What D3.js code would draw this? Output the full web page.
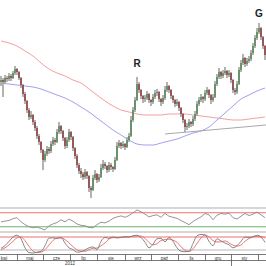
<!DOCTYPE html>
<html>
<head>
<meta charset="utf-8">
<script src="https://cdn.jsdelivr.net/npm/d3@7"></script>
<style>
  html, body { margin: 0; padding: 0; background: #fff; }
  svg { display: block; }
</style>
</head>
<body>
<svg id="chart" width="266" height="266"></svg>
<script>
// daily candles, [open, high, low, close]
const candles = [
  [168,174,164,170],[170,172,153,168],[168,175,166,172],[172,174,168,171],[171,177,169,174],
  [174,176,169,172],[172,179,171,177],[177,184,175,181],[181,182,175,178],[178,179,170,172],
  [172,173,162,165],[165,166,153,156],[156,158,146,149],[149,150,137,140],[140,142,130,133],
  [133,139,131,135],[135,136,125,128],[128,130,119,122],[122,124,111,114],[114,116,105,108],
  [108,109,97,100],[100,101,80,90],[90,99,88,96],[96,104,94,101],[101,103,96,99],
  [99,109,97,106],[106,113,104,110],[110,112,105,108],[108,121,107,118],[118,128,116,124],
  [124,125,116,119],[119,120,109,112],[112,113,101,104],[104,113,102,110],[110,121,108,118],
  [118,119,110,113],[113,114,99,102],[102,103,91,94],[94,96,82,85],[85,87,76,79],
  [79,82,72,76],[76,78,70,73],[73,81,71,78],[78,79,71,74],[74,75,58,62],
  [62,64,52,60],[60,75,59,72],[72,80,70,76],[76,77,67,70],[70,76,68,73],
  [73,86,72,82],[82,90,80,86],[86,88,81,84],[84,85,77,80],[80,88,78,85],
  [85,87,80,83],[83,84,78,81],[81,93,80,90],[90,108,89,104],[104,110,102,107],
  [107,108,101,104],[104,109,102,106],[106,107,100,103],[103,113,102,110],[110,117,108,114],
  [114,134,113,130],[130,143,128,140],[140,153,138,150],[150,173,149,166],[166,168,157,160],
  [160,161,151,154],[154,155,147,151],[151,155,148,152],[152,159,150,156],[156,157,147,150],
  [150,151,144,148],[148,156,146,153],[153,160,151,157],[157,161,154,158],[158,159,148,151],
  [151,152,144,148],[148,155,146,152],[152,164,150,160],[160,168,158,164],[164,165,157,160],
  [160,161,151,154],[154,155,147,150],[150,151,143,146],[146,151,144,148],[148,149,139,142],
  [142,143,133,136],[136,137,127,130],[130,131,118,123],[123,127,120,124],[124,131,122,128],
  [128,129,123,126],[126,134,124,131],[131,139,129,136],[136,149,134,146],[146,153,144,150],
  [150,156,148,153],[153,154,147,151],[151,160,149,157],[157,163,155,160],[160,161,152,155],
  [155,156,146,150],[150,156,148,153],[153,169,152,166],[166,176,164,173],[173,182,171,178],
  [178,179,171,174],[174,180,172,177],[177,183,175,179],[179,180,172,175],[175,180,173,177],
  [177,178,167,170],[170,171,157,160],[160,162,155,158],[158,169,156,166],[166,183,165,180],
  [180,190,178,187],[187,196,185,192],[192,193,183,186],[186,192,184,189],[189,194,187,191],
  [191,200,189,197],[197,207,195,204],[204,215,202,212],[212,222,210,218],[218,227,216,222],
  [222,223,210,213],[213,214,201,204],[204,205,190,195]
];

// moving averages, one value every 4th candle
const maStep = 4;
const maFast = [167,166,165,164,163,161,158,155,152,148,143,138,132,126,120,115,110,106,
  105,105,107,109,111,114,117,119,123,130,137,144,151,155,159,162];
const maSlow = [209,207,204,199,194,187,181,177,174,170,167,161,155,149,144,140,138,136,
  135,135,135,136,136,136,135,134,133,132,131,130,130,131,132,133];

// oscillators, one value every 2nd candle
const oscStep = 2;
const rsiValues = [44,46,48,53,56,44,36,30,27,29,25,21,33,38,42,50,44,52,46,38,34,33,28,27,
  36,43,41,46,54,58,61,57,62,70,78,73,66,58,62,64,57,68,60,57,54,48,42,36,45,52,58,68,64,
  50,63,68,66,69,56,52,60,68,62,66,72,64,56];
const stochK = [28,40,60,80,88,72,30,8,6,10,14,40,75,76,74,78,52,30,22,10,12,20,30,34,22,
  60,78,74,80,76,78,82,80,86,88,78,56,30,46,72,74,58,78,60,30,14,12,14,50,86,92,90,60,40,
  72,62,52,44,30,40,60,80,78,82,88,80,55];
const stochD = [22,30,43,60,76,80,63,37,15,8,10,21,43,64,75,76,68,53,35,21,15,14,21,28,29,
  39,53,71,77,77,78,79,80,83,85,84,74,55,44,49,64,68,70,65,56,35,19,13,25,50,76,89,81,63,
  57,58,62,53,42,38,43,60,73,80,83,83,74];
const rsiLevels = [{ v: 70, color: "#f07070" }, { v: 30, color: "#70b070" }];
const stochLevels = [{ v: 80, color: "#f07070" }, { v: 20, color: "#b8b8b8" }];

const trendLine = [{ i: 82, p: 116 }, { i: 132.5, p: 125 }];
const peakLabels = [{ i: 68, p: 183, text: "R" }, { i: 129, p: 233, text: "G" }];

const monthStarts = [-5, 8, 21, 34.5, 48, 62, 75, 88.5, 102, 115, 128.5];
const monthLabels = ["kwi", "maj", "cze", "lip", "sie", "wrz", "paź", "lis", "gru", "sty"];
const yearBreak = 115;
const yearLabel = { i: 34.5, text: "2012" };

(function drawChart() {
  const svg = d3.select("#chart");
  const width = 266;

  const x = d3.scaleLinear().domain([-0.5, 132.5]).range([0, width]);
  const y = d3.scaleLinear().domain([45, 250]).range([205, 0]);
  const rsiY = d3.scaleLinear().domain([15, 85]).range([232, 207.5]);
  const stochY = d3.scaleLinear().domain([0, 100]).range([254.3, 232.7]);

  // panel separators
  svg.append("g")
    .selectAll("line")
    .data([rsiY(85) + 0.5, rsiY(15)])
    .join("line")
    .attr("x1", 0)
    .attr("x2", width)
    .attr("y1", (d) => d)
    .attr("y2", (d) => d)
    .attr("stroke", "#b0b0b0")
    .attr("stroke-width", 1.2);

  // moving averages
  const maLine = d3.line()
    .x((d, idx) => x(idx * maStep))
    .y((d) => y(d))
    .curve(d3.curveMonotoneX);

  svg.append("path")
    .datum(maSlow)
    .attr("d", maLine)
    .attr("fill", "none")
    .attr("stroke", "#f4a0a0")
    .attr("stroke-width", 1);

  svg.append("path")
    .datum(maFast)
    .attr("d", maLine)
    .attr("fill", "none")
    .attr("stroke", "#a0a0f4")
    .attr("stroke-width", 1);

  svg.append("line")
    .attr("x1", x(trendLine[0].i))
    .attr("x2", x(trendLine[1].i))
    .attr("y1", y(trendLine[0].p))
    .attr("y2", y(trendLine[1].p))
    .attr("stroke", "#a8a8a8")
    .attr("stroke-width", 1);

  // candles
  const candleG = svg.append("g");
  const rows = candles.map((c, i) => ({ i, o: c[0], h: c[1], l: c[2], c: c[3] }));

  candleG.selectAll("line.wick")
    .data(rows)
    .join("line")
    .attr("class", "wick")
    .attr("x1", (d) => x(d.i))
    .attr("x2", (d) => x(d.i))
    .attr("y1", (d) => y(d.h))
    .attr("y2", (d) => y(d.l))
    .attr("stroke", "#a0a0a0")
    .attr("stroke-width", 1.6);

  candleG.selectAll("rect.body")
    .data(rows)
    .join("rect")
    .attr("class", "body")
    .attr("x", (d) => x(d.i) - 0.6)
    .attr("width", 1.2)
    .attr("y", (d) => y(Math.max(d.o, d.c)))
    .attr("height", (d) => Math.max(1, Math.abs(y(d.o) - y(d.c))))
    .attr("fill", (d) => (d.c >= d.o ? "#3f7a3f" : "#8a1c1c"));

  svg.append("g")
    .selectAll("text")
    .data(peakLabels)
    .join("text")
    .attr("x", (d) => x(d.i))
    .attr("y", (d) => y(d.p))
    .attr("text-anchor", "middle")
    .attr("font-family", "Liberation Sans, Arial, sans-serif")
    .attr("font-size", 10)
    .attr("font-weight", "bold")
    .attr("fill", "#222")
    .text((d) => d.text);

  // RSI panel
  const oscLine = (scale, curve) => d3.line()
    .x((d, idx) => x(idx * oscStep))
    .y((d) => scale(d))
    .curve(curve);

  svg.append("g")
    .selectAll("line")
    .data(rsiLevels)
    .join("line")
    .attr("x1", 0)
    .attr("x2", width)
    .attr("y1", (d) => rsiY(d.v))
    .attr("y2", (d) => rsiY(d.v))
    .attr("stroke", (d) => d.color)
    .attr("stroke-width", 1.2);

  svg.append("path")
    .datum(rsiValues)
    .attr("d", oscLine(rsiY, d3.curveLinear))
    .attr("fill", "none")
    .attr("stroke", "#8a8a8a")
    .attr("stroke-width", 0.9);

  // stochastic panel
  svg.append("g")
    .selectAll("line")
    .data(stochLevels)
    .join("line")
    .attr("x1", 0)
    .attr("x2", width)
    .attr("y1", (d) => stochY(d.v))
    .attr("y2", (d) => stochY(d.v))
    .attr("stroke", (d) => d.color)
    .attr("stroke-width", 1.2);

  svg.append("path")
    .datum(stochD)
    .attr("d", oscLine(stochY, d3.curveMonotoneX))
    .attr("fill", "none")
    .attr("stroke", "#f07878")
    .attr("stroke-width", 1);

  svg.append("path")
    .datum(stochK)
    .attr("d", oscLine(stochY, d3.curveMonotoneX))
    .attr("fill", "none")
    .attr("stroke", "#7a7a7a")
    .attr("stroke-width", 0.9);

  // time axis
  const axisTop = 254.5;
  const axisBottom = 260.5;
  const axisG = svg.append("g");

  axisG.selectAll("line.edge")
    .data([axisTop, axisBottom])
    .join("line")
    .attr("class", "edge")
    .attr("x1", 0)
    .attr("x2", width)
    .attr("y1", (d) => d)
    .attr("y2", (d) => d)
    .attr("stroke", "#555")
    .attr("stroke-width", 0.8);

  axisG.selectAll("line.tick")
    .data(monthStarts.slice(1))
    .join("line")
    .attr("class", "tick")
    .attr("x1", (d) => Math.round(x(d)) + 0.5)
    .attr("x2", (d) => Math.round(x(d)) + 0.5)
    .attr("y1", axisTop)
    .attr("y2", (d) => (d === yearBreak ? 266 : axisBottom))
    .attr("stroke", "#555")
    .attr("stroke-width", 0.8);

  axisG.selectAll("text.month")
    .data(monthLabels)
    .join("text")
    .attr("class", "month")
    .attr("x", (d, idx) => x((monthStarts[idx] + monthStarts[idx + 1]) / 2))
    .attr("y", axisBottom - 1)
    .attr("text-anchor", "middle")
    .attr("font-family", "Liberation Sans, Arial, sans-serif")
    .attr("font-size", 4.5)
    .attr("fill", "#333")
    .text((d) => d);

  axisG.append("text")
    .attr("x", x(yearLabel.i))
    .attr("y", 265)
    .attr("text-anchor", "middle")
    .attr("font-family", "Liberation Sans, Arial, sans-serif")
    .attr("font-size", 4.5)
    .attr("fill", "#333")
    .text(yearLabel.text);
})();
</script>
</body>
</html>
